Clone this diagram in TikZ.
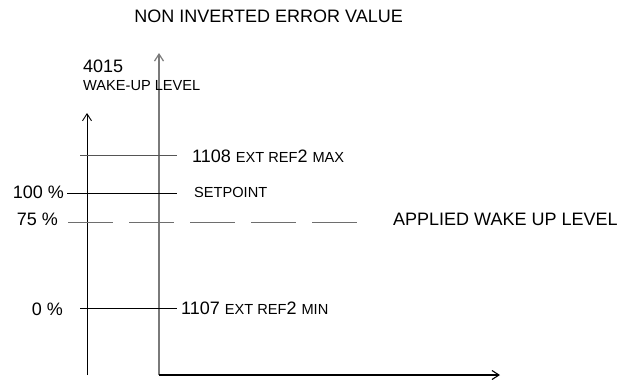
\documentclass[tikz,border=0pt]{standalone}
\usepackage{fontspec}
\setmainfont{Liberation Sans}
\usepackage{tikz}
\usetikzlibrary{arrows.meta, positioning}
\definecolor{axisGrey}{HTML}{7A7A7A}
\definecolor{tickGrey}{HTML}{555555}
\definecolor{dashGrey}{HTML}{6E6E6E}
\newcommand{\bigtxt}{\fontsize{18}{20}\selectfont}
\newcommand{\smtxt}[1]{{\fontsize{14.6}{16}\selectfont #1}}

\begin{document}
\begin{tikzpicture}[x=1pt, y=-1pt,
    lbl/.style={inner sep=0pt, font=\bigtxt},
    axisArrow/.style={-{Straight Barb[length=7pt, width=9pt]}, line width=0.9pt}]
  \useasboundingbox (0,0) rectangle (627,380);

  % axes
  \coordinate (leftBase) at (87,375);
  \coordinate (leftTip) at (87,113);
  \coordinate (rightBase) at (159,375);
  \coordinate (rightTip) at (159,53);
  \coordinate (xTip) at (500,375);
  \draw[axisArrow] (leftBase) -- (leftTip);
  \draw[axisArrow, axisGrey, line width=1.2pt] (rightBase) -- (rightTip);
  \draw[axisArrow, line width=1.1pt] (rightBase) -- (xTip);

  % level lines
  \coordinate (maxL) at (80,155);   \coordinate (maxR) at (177,155);
  \coordinate (spL) at (67,193);    \coordinate (spR) at (177,193);
  \coordinate (wakeL) at (68,222);  \coordinate (wakeR) at (359,222);
  \coordinate (minL) at (80,308);   \coordinate (minR) at (177,308);
  \draw[tickGrey, line width=0.9pt] (maxL) -- (maxR);
  \draw[line width=0.9pt] (spL) -- (spR);
  \draw[dashGrey, line width=0.9pt, dash pattern=on 45pt off 16pt] (wakeL) -- (wakeR);
  \draw[line width=0.9pt] (minL) -- (minR);

  % labels
  \node[lbl, anchor=base east] (title) at (403,22) {NON INVERTED ERROR VALUE};
  \node[lbl, anchor=base west] (param) at (83,72) {4015};
  \node[lbl, anchor=base west, font=\fontsize{14.6}{16}\selectfont] (wakeTxt) at (83,90) {WAKE-UP LEVEL};
  \node[lbl, anchor=base west] (maxTxt) at (192,162) {1108 \smtxt{EXT REF}2 \smtxt{MAX}};
  \node[lbl, anchor=base east] (pct100) at (64,198) {100 \%};
  \node[lbl, anchor=base west, font=\fontsize{14.6}{16}\selectfont] (spTxt) at (194,197) {SETPOINT};
  \node[lbl, anchor=base east] (pct75) at (58,225) {75 \%};
  \node[lbl, anchor=base west] (appTxt) at (393,225) {APPLIED WAKE UP LEVEL};
  \node[lbl, anchor=base east] (pct0) at (63,315) {0 \%};
  \node[lbl, anchor=base west] (minTxt) at (181,314) {1107 \smtxt{EXT REF}2 \smtxt{MIN}};
\end{tikzpicture}
\end{document}
